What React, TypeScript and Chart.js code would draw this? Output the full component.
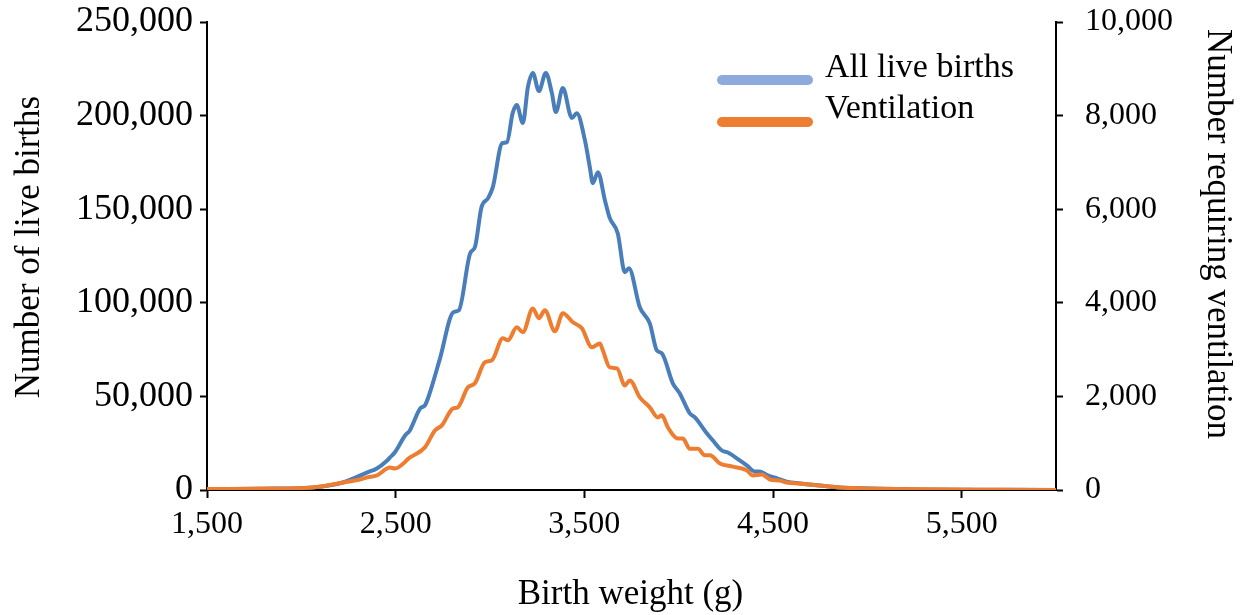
import React, { useEffect, useRef } from "react";
import { Chart, registerables } from "chart.js";

Chart.register(...registerables);

// ---- data ----
const xTicks = [1500, 2500, 3500, 4500, 5500];

const birthWeights = [1500, 1650, 1820, 1990, 2060, 2220, 2350, 2400, 2455, 2470, 2495, 2550, 2575, 2630, 2655, 2680, 2735, 2805, 2835, 2895, 2920, 2955, 2990, 3015, 3065, 3090, 3120, 3142, 3174, 3201, 3227, 3259, 3296, 3328, 3349, 3386, 3434, 3460, 3503, 3529, 3545, 3572, 3609, 3635, 3677, 3715, 3736, 3794, 3847, 3884, 3911, 3969, 4006, 4059, 4086, 4150, 4181, 4229, 4261, 4324, 4361, 4403, 4430, 4472, 4525, 4573, 4642, 4748, 4854, 5013, 5278, 5700, 6000];
const liveBirths = [400, 500, 700, 1000, 1300, 4000, 9400, 11500, 15800, 17400, 20000, 29100, 31800, 43600, 45200, 51600, 70300, 94900, 96000, 126500, 129700, 151100, 155900, 161800, 185300, 185800, 201300, 205600, 196000, 215300, 222800, 213100, 222800, 212000, 201900, 214700, 198700, 201300, 186900, 172500, 163900, 169800, 154800, 145200, 137200, 116300, 118500, 97600, 89000, 74600, 73000, 57000, 51600, 40900, 38800, 30200, 26500, 21100, 20000, 15800, 13100, 9900, 9900, 7800, 6100, 4500, 3500, 2400, 1300, 800, 300, 100, 50];

const ventWeights = [1500, 1820, 2060, 2220, 2310, 2350, 2400, 2470, 2496, 2576, 2655, 2708, 2745, 2803, 2829, 2882, 2920, 2973, 3010, 3068, 3095, 3142, 3174, 3227, 3259, 3291, 3344, 3386, 3439, 3487, 3540, 3582, 3598, 3635, 3673, 3715, 3741, 3794, 3847, 3890, 3911, 3943, 3996, 4022, 4059, 4102, 4139, 4166, 4219, 4288, 4361, 4393, 4441, 4483, 4536, 4573, 4642, 4748, 4854, 5013, 5278, 5700, 6000];
const ventilation = [20, 30, 55, 160, 225, 270, 310, 480, 460, 695, 910, 1270, 1380, 1740, 1765, 2190, 2280, 2730, 2770, 3240, 3200, 3475, 3370, 3880, 3670, 3840, 3390, 3775, 3585, 3455, 3050, 3130, 2985, 2620, 2600, 2235, 2340, 1980, 1765, 1550, 1595, 1335, 1100, 1100, 880, 880, 740, 740, 565, 500, 420, 310, 330, 225, 200, 160, 140, 95, 55, 30, 15, 5, 0];

const seriesLabels = ["All live births", "Ventilation"];
const xTitle = "Birth weight (g)";
const yTitle = "Number of live births";
const y2Title = "Number requiring ventilation";
const lineColors = ["#4A7EBB", "#ED7D31"];
const legendColors = ["#8EA9DB", "#ED7D31"];

const FONT = "'Liberation Serif', 'Times New Roman', serif";

const textPlugin = {
  id: "excelText",
  afterDraw(chart: any) {
    const ctx = chart.ctx;
    ctx.save();
    // legend
    const rows = [
      { swY: 80, txtY: 77 },
      { swY: 122, txtY: 118 },
    ];
    chart.data.datasets.forEach((ds: any, i: number) => {
      const r = rows[i];
      ctx.strokeStyle = legendColors[i];
      ctx.lineWidth = 10;
      ctx.lineCap = "round";
      ctx.beginPath();
      ctx.moveTo(722, r.swY);
      ctx.lineTo(808, r.swY);
      ctx.stroke();
      ctx.fillStyle = "#000";
      ctx.font = `34px ${FONT}`;
      ctx.textBaseline = "alphabetic";
      ctx.textAlign = "left";
      ctx.fillText(ds.label, 825, r.txtY);
    });
    // axis titles
    ctx.font = `35px ${FONT}`;
    ctx.fillStyle = "#000";
    ctx.textAlign = "center";
    ctx.textBaseline = "middle";
    const xa = chart.scales.x;
    ctx.fillText(xTitle, (xa.left + xa.right) / 2 - 1, 595);
    ctx.save();
    ctx.translate(30, 247);
    ctx.rotate(-Math.PI / 2);
    ctx.fillText(yTitle, 0, 0);
    ctx.restore();
    ctx.save();
    ctx.translate(1217, 234);
    ctx.rotate(Math.PI / 2);
    ctx.fillText(y2Title, 0, 0);
    ctx.restore();
    ctx.restore();
  },
};

const zeroPad = (s: any) => {
  s.paddingTop = 0;
  s.paddingBottom = 0;
};

export default function App() {
  const ref = useRef<HTMLCanvasElement>(null);
  useEffect(() => {
    document.body.style.margin = "0";
    const tickFont = { family: FONT, size: 32 };
    const leftTickFont = { family: FONT, size: 36 };
    const chart = new Chart(ref.current!, {
      type: "line",
      data: {
        datasets: [
          {
            label: seriesLabels[0],
            data: birthWeights.map((w, i) => ({ x: w, y: liveBirths[i] })),
            borderColor: lineColors[0],
            backgroundColor: lineColors[0],
            borderWidth: 4,
            pointRadius: 0,
            cubicInterpolationMode: "monotone",
            yAxisID: "y",
            order: 2,
          },
          {
            label: seriesLabels[1],
            data: ventWeights.map((w, i) => ({ x: w, y: ventilation[i] })),
            borderColor: lineColors[1],
            backgroundColor: lineColors[1],
            borderWidth: 4,
            pointRadius: 0,
            cubicInterpolationMode: "monotone",
            yAxisID: "y2",
            order: 1,
          },
        ],
      },
      options: {
        responsive: false,
        devicePixelRatio: 1,
        animation: false,
        layout: { padding: { top: 22, left: 0, right: 0, bottom: 0 } },
        plugins: { legend: { display: false }, tooltip: { enabled: false } },
        scales: {
          x: {
            type: "linear",
            min: 1500,
            max: 6000,
            border: { color: "#000", width: 2 },
            grid: { drawOnChartArea: false, drawTicks: true, tickLength: 8, tickColor: "#000", tickWidth: 2 },
            ticks: { font: tickFont, color: "#000", padding: 7, maxRotation: 0 },
            afterBuildTicks: (s: any) => {
              s.ticks = xTicks.map((v) => ({ value: v }));
            },
            afterFit: (s: any) => {
              s.height = 125;
              s.paddingLeft = 0;
              s.paddingRight = 0;
            },
          },
          y: {
            type: "linear",
            position: "left",
            min: 0,
            max: 250000,
            border: { color: "#000", width: 2 },
            grid: { drawOnChartArea: false, drawTicks: true, tickLength: 7, tickColor: "#000", tickWidth: 2 },
            ticks: { stepSize: 50000, font: leftTickFont, color: "#000", padding: 7 },
            afterFit: (s: any) => {
              s.width = 207;
              zeroPad(s);
            },
          },
          y2: {
            type: "linear",
            position: "right",
            min: 0,
            max: 10000,
            border: { color: "#000", width: 2 },
            grid: { drawOnChartArea: false, drawTicks: true, tickLength: 7, tickColor: "#000", tickWidth: 2 },
            ticks: { stepSize: 2000, font: tickFont, color: "#000", padding: 22 },
            afterFit: (s: any) => {
              s.width = 188;
              zeroPad(s);
            },
          },
        },
      },
      plugins: [textPlugin],
    } as any);
    return () => chart.destroy();
  }, []);
  return (
    <div style={{ position: "absolute", left: 0, top: 0, width: 1244, height: 615, background: "#fff" }}>
      <canvas ref={ref} width={1244} height={615} />
    </div>
  );
}
